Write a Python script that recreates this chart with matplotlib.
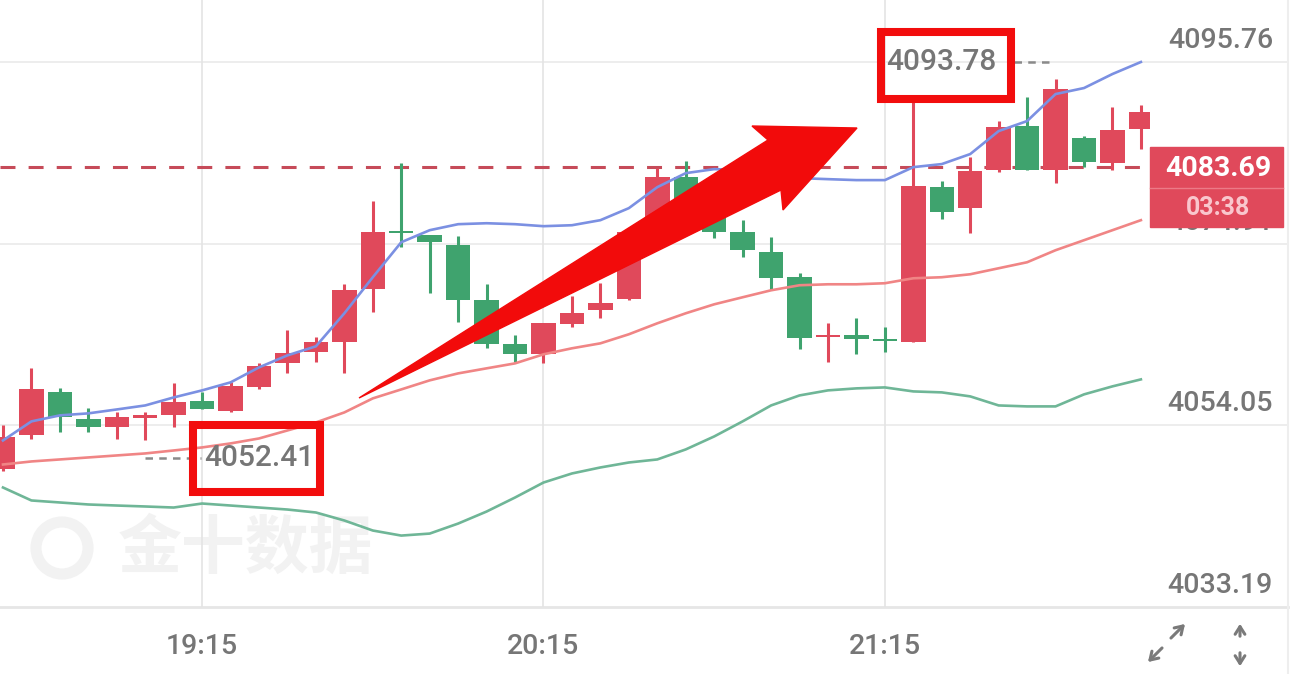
import numpy as np
import matplotlib
matplotlib.use("Agg")
import matplotlib.pyplot as plt
from matplotlib.patches import Rectangle, Polygon, Circle

W, H = 1290, 674
plt.rcParams["font.family"] = ["Roboto", "DejaVu Sans"]

# 5-minute bars, first bar 18:40, last bar 21:55 (still open)
opens = [4048.98, 4052.89, 4057.83, 4054.73, 4053.81, 4054.90, 4055.19, 4056.79, 4055.65, 4058.40,
         4061.16, 4062.43, 4063.58, 4069.67, 4076.22, 4075.87, 4074.73, 4068.40, 4063.35, 4062.20,
         4065.65, 4067.25, 4068.52, 4076.30, 4082.54, 4079.60, 4076.22, 4073.92, 4071.05, 4064.15,
         4064.38, 4063.81, 4063.58, 4081.39, 4078.98, 4083.35, 4088.40, 4083.35, 4087.02, 4084.15,
         4088.06]
highs = [4054.04, 4060.59, 4058.29, 4055.99, 4055.53, 4055.53, 4058.86, 4057.83, 4058.98, 4061.16,
         4064.96, 4064.15, 4070.24, 4079.78, 4084.15, 4075.87, 4075.76, 4070.24, 4064.38, 4065.76,
         4068.86, 4070.36, 4076.70, 4083.58, 4084.38, 4080.20, 4077.60, 4075.65, 4071.51, 4065.76,
         4066.33, 4065.30, 4091.40, 4082.08, 4084.84, 4088.98, 4091.74, 4093.78, 4087.25, 4090.59,
         4090.82]
lows = [4048.86, 4052.43, 4053.23, 4053.23, 4052.43, 4052.41, 4053.81, 4055.87, 4055.53, 4058.17,
        4060.01, 4061.28, 4060.01, 4067.02, 4074.50, 4069.21, 4065.87, 4062.89, 4061.28, 4061.16,
        4065.30, 4066.33, 4068.40, 4075.90, 4078.90, 4075.53, 4073.35, 4069.55, 4062.77, 4061.28,
        4062.20, 4062.43, 4063.58, 4077.71, 4076.10, 4083.12, 4083.35, 4081.85, 4083.69, 4083.35,
        4085.76]
closes = [4052.66, 4058.17, 4054.96, 4053.81, 4054.96, 4054.96, 4056.68, 4055.87, 4058.52, 4060.82,
          4062.31, 4063.58, 4069.55, 4076.22, 4076.10, 4075.07, 4068.40, 4063.35, 4062.20, 4065.76,
          4066.91, 4068.06, 4076.22, 4082.54, 4079.60, 4076.22, 4074.15, 4070.93, 4064.04, 4064.38,
          4063.92, 4063.69, 4081.51, 4078.52, 4083.23, 4088.29, 4083.35, 4092.66, 4084.27, 4087.94,
          4090.01]

# Bollinger bands
upper = [4052.31, 4054.50, 4055.19, 4055.42, 4055.87, 4056.33, 4057.25, 4058.06, 4058.98, 4060.70,
         4062.08, 4063.12, 4066.91, 4071.05, 4075.07, 4076.45, 4077.14, 4077.25, 4077.14, 4076.91,
         4077.02, 4077.60, 4078.98, 4081.39, 4083.00, 4083.46, 4083.35, 4082.66, 4082.43, 4082.31,
         4082.20, 4082.20, 4083.69, 4084.04, 4085.19, 4087.83, 4088.98, 4092.08, 4092.77, 4094.38,
         4095.76]
middle = [4049.55, 4049.90, 4050.13, 4050.36, 4050.59, 4050.82, 4051.16, 4051.51, 4051.97, 4052.54,
          4053.46, 4054.38, 4055.53, 4057.14, 4058.17, 4059.21, 4060.01, 4060.59, 4061.16, 4062.20,
          4062.89, 4063.46, 4064.50, 4065.76, 4066.91, 4067.94, 4068.75, 4069.55, 4070.13, 4070.24,
          4070.24, 4070.36, 4070.93, 4071.05, 4071.39, 4072.08, 4072.77, 4074.15, 4075.30, 4076.45,
          4077.60]
lower = [4046.91, 4045.42, 4045.19, 4044.96, 4044.84, 4044.73, 4044.61, 4045.07, 4044.84, 4044.61,
         4044.38, 4044.04, 4043.12, 4041.97, 4041.39, 4041.62, 4042.77, 4044.15, 4045.76, 4047.48,
         4048.52, 4049.21, 4049.78, 4050.13, 4051.28, 4052.77, 4054.50, 4056.33, 4057.48, 4058.06,
         4058.29, 4058.40, 4057.94, 4057.83, 4057.37, 4056.33, 4056.22, 4056.22, 4057.60, 4058.52,
         4059.32]

tick_pos = [7, 19, 31]
tick_labels = ["19:15", "20:15", "21:15"]
grid_levels = [4095.76, 4074.91, 4054.05, 4033.19]
last_price = 4083.69
countdown = "03:38"
low_idx, low_val = 5, 4052.41
high_idx, high_val = 37, 4093.78

RED = "#e0495b"
GREEN = "#3fa36e"
GREY = "#767676"

fig = plt.figure(figsize=(W / 100, H / 100), dpi=100)
fig.patch.set_facecolor("white")

plot_bottom = 607   # px from top where the price area ends
top_grid = 62       # px of the top grid level
y_bot = grid_levels[-1]
y_top = y_bot + (grid_levels[0] - y_bot) * plot_bottom / (plot_bottom - top_grid)

ax_bg = fig.add_axes([0, 1 - plot_bottom / H, 1288 / W, plot_bottom / H], zorder=0)
ax = fig.add_axes([0, 1 - plot_bottom / H, 1150 / W, plot_bottom / H], zorder=1)
ov = fig.add_axes([0, 0, 1, 1], zorder=5)

# ---- background: horizontal grid + price labels ----
ax_bg.set_xlim(0, 1)
ax_bg.set_ylim(y_bot, y_top)
for lvl in grid_levels[:-1]:
    ax_bg.axhline(lvl, color="#ececec", lw=1.3)
for s in ["top", "left", "right"]:
    ax_bg.spines[s].set_visible(False)
ax_bg.spines["bottom"].set_color("#e6e6e6")
ax_bg.spines["bottom"].set_linewidth(2)
ax_bg.set_xticks([])
ax_bg.set_yticks([])
for lvl in grid_levels:
    ax_bg.annotate(f"{lvl:.2f}", xy=(1273 / 1288, lvl), xycoords=("axes fraction", "data"),
                   xytext=(0, 15.5), textcoords="offset points", ha="right", va="center",
                   fontsize=20.5, fontweight="medium", color=GREY)

# watermark
ax_bg.add_patch(Circle((62, 548), 26, fill=False, lw=8, ec="#f2f2f2", transform=ov.transData))
ax_bg.text(118, 549, "金十数据", fontsize=46, fontweight="bold", va="center", ha="left",
           family=["Noto Sans CJK SC", "DejaVu Sans"], color="#f2f2f2", transform=ov.transData)

# ---- candles ----
x = np.arange(len(opens))
o = np.array(opens)
c = np.array(closes)
up = c >= o
colors = np.where(up, RED, GREEN)

ax.set_xlim(-0.105, 40.32)
ax.set_ylim(y_bot, y_top)
ax.patch.set_alpha(0)

ax.vlines(x, lows, highs, colors=colors, lw=2.2, zorder=3)
body_lo = np.minimum(o, c)
body_h = np.maximum(np.abs(c - o), 0.3)
ax.bar(x, body_h, bottom=body_lo, width=0.86, color=colors, zorder=4)

ax.plot(x, upper, color="#7b90e2", lw=1.9, zorder=5)
ax.plot(x, middle, color="#f08585", lw=1.9, zorder=5)
ax.plot(x, lower, color="#6fb697", lw=1.9, zorder=5)

ax.axhline(last_price, color="#c64b59", lw=2.2, ls=(0, (4.9, 4.3)), zorder=2)

ax.set_xticks(tick_pos, tick_labels)
ax.set_yticks([])
ax.tick_params(axis="x", length=0, pad=19, labelsize=20.5, labelcolor=GREY)
for lab in ax.get_xticklabels():
    lab.set_fontweight("medium")
ax.grid(axis="x", color="#e4e4e4", lw=1.2)
for s in ax.spines.values():
    s.set_visible(False)

# ---- overlay in pixel space ----
ov.set_xlim(0, W)
ov.set_ylim(H, 0)
ov.axis("off")
ov.patch.set_alpha(0)


def to_px(xv, yv):
    dx, dy = ax.transData.transform((xv, yv))
    return dx, H - dy


# right border
ov.plot([1288, 1288], [0, H], color="#eeeeee", lw=1.5)

# last price tag (covers the middle grid label, as in the app)
_, py = to_px(0, last_price)
ov.add_patch(Rectangle((1150, py - 20), 133, 80, color=RED, zorder=6))
ov.plot([1150, 1283], [py + 21, py + 21], color="#ec7a87", lw=1, zorder=7)
ov.text(1218, py + 1, f"{last_price:.2f}", color="white", fontsize=20.5, fontweight="bold",
        ha="center", va="center", zorder=8)
ov.text(1218, py + 41, countdown, color="#f9c6cd", fontsize=18, fontweight="bold",
        ha="center", va="center", zorder=8)

# low / high markers
lx, ly = to_px(low_idx, low_val)
ov.plot([lx, lx + 56], [ly + 18, ly + 18], color="#8a8a8a", lw=1.8, ls=(0, (3, 2.5)))
ov.text(lx + 59, ly + 18, f"{low_val:.2f}", fontsize=21.5, fontweight="medium", color=GREY,
        ha="left", va="center")
hx, hy = to_px(high_idx, high_val)
ov.plot([hx - 42, hx - 2], [hy - 17, hy - 17], color="#8a8a8a", lw=1.8, ls=(0, (3, 2.5)))
ov.text(hx - 59, hy - 17, f"{high_val:.2f}", fontsize=21.5, fontweight="medium", color=GREY,
        ha="right", va="center")

# red highlight boxes
ov.add_patch(Rectangle((193, 425), 127, 67, fill=False, ec="#f20d0d", lw=5.8, joinstyle="miter", zorder=6))
ov.add_patch(Rectangle((881, 32), 130, 67, fill=False, ec="#f20d0d", lw=5.8, joinstyle="miter", zorder=6))

# big red arrow
arrow = [(359, 398), (768, 140), (752, 126), (857, 128), (783, 210), (781, 190)]
ov.add_patch(Polygon(arrow, closed=True, color="#f20b0b", zorder=6))

# bottom-right icons
akw = dict(arrowstyle="->,head_length=0.55,head_width=0.35", color="#7a7a7a", lw=2.2)
ov.annotate("", xy=(1187, 622), xytext=(1169, 640), arrowprops=akw)
ov.annotate("", xy=(1146, 664), xytext=(1164, 646), arrowprops=akw)
ov.annotate("", xy=(1240, 621), xytext=(1240, 639), arrowprops=akw)
ov.annotate("", xy=(1240, 669), xytext=(1240, 650), arrowprops=akw)

fig.savefig("out.png", dpi=100, facecolor="white")
